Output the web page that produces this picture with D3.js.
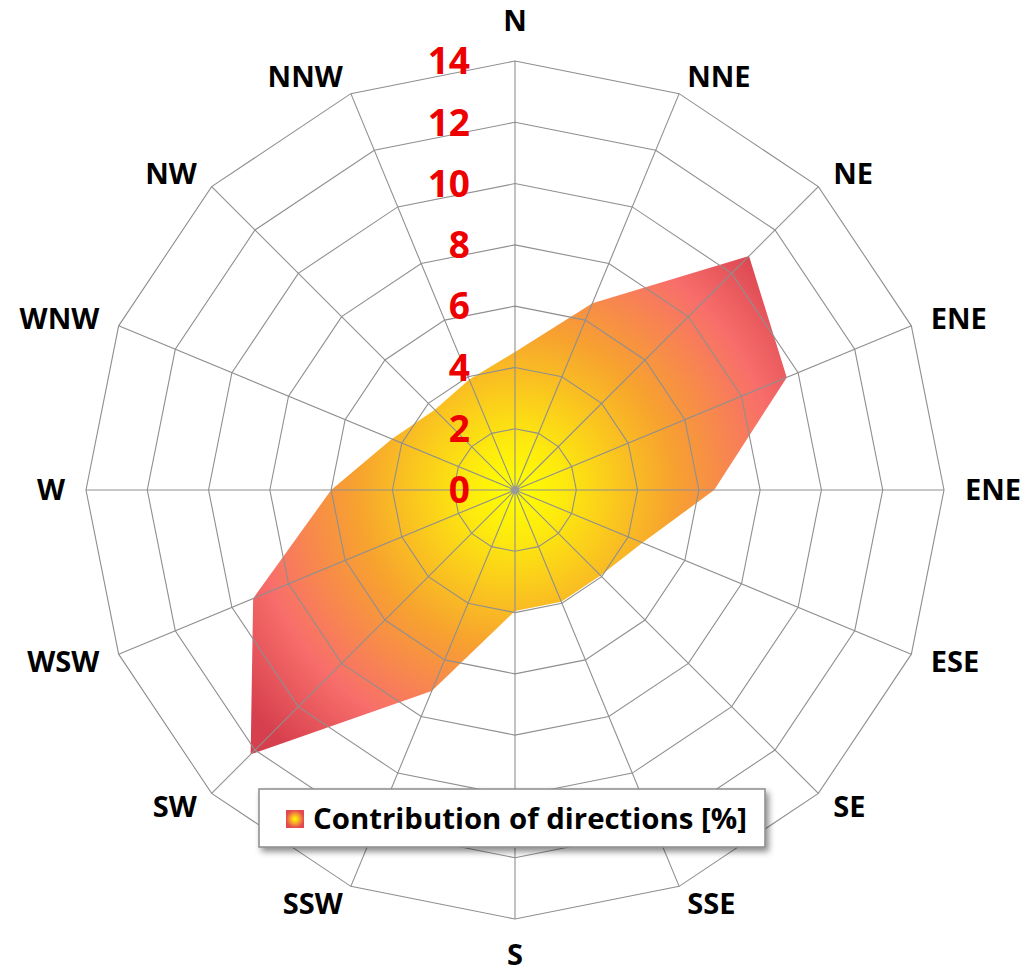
<!DOCTYPE html>
<html>
<head>
<meta charset="utf-8">
<script src="https://cdn.jsdelivr.net/npm/d3@7"></script>
<style>
  body { margin: 0; background: #fff; }
  svg { display: block; }
</style>
</head>
<body>
<svg></svg>
<script>
// directions as labelled in the original (the east label really reads "ENE" twice)
const directions = ["N", "NNE", "NE", "ENE", "ENE", "ESE", "SE", "SSE",
                    "S", "SSW", "SW", "WSW", "W", "WNW", "NW", "NNW"];
const contribution = [4.5, 6.6, 10.8, 9.6, 6.5, 4.5, 3.95, 3.95,
                      3.95, 7.1, 12.2, 9.25, 6.0, 4.35, 3.7, 3.9];
const tickValues = [0, 2, 4, 6, 8, 10, 12, 14];
const legendLabel = "Contribution of directions [%]";

function buildPlot(){
    const width = 1022, height = 975;
    const cx = 515, cy = 490, radius = 429;

    const svg = d3.select("svg").attr("width", width).attr("height", height)
        .attr("viewBox", [0, 0, width, height]);

    const r_scale = d3.scaleLinear().domain([0, 14]).range([0, radius]);
    const a_scale = d3.scaleLinear().domain([0, directions.length]).range([0, 2 * Math.PI]);

    const defs = svg.append("defs");

    // fill: yellow in the middle, orange, then red at the tips
    // (user space of the translated group, so centre is 0,0)
    const grad = defs.append("radialGradient").attr("id", "fillGrad")
        .attr("gradientUnits", "userSpaceOnUse")
        .attr("cx", 0).attr("cy", 0).attr("r", 345);
    [["0", "#ffff00"], ["0.14", "#fdea0e"], ["0.46", "#f7a22f"],
     ["0.76", "#f86e6b"], ["1", "#d63f4d"]].forEach(s =>
        grad.append("stop").attr("offset", s[0]).attr("stop-color", s[1]));

    const iconGrad = defs.append("radialGradient").attr("id", "iconGrad");
    [["0", "#ffff00"], ["0.5", "#f7a62e"], ["1", "#e2484f"]].forEach(s =>
        iconGrad.append("stop").attr("offset", s[0]).attr("stop-color", s[1]));

    const shadow = defs.append("filter").attr("id", "shadow")
        .attr("x", "-10%").attr("y", "-30%").attr("width", "130%").attr("height", "180%");
    shadow.append("feDropShadow").attr("dx", 3).attr("dy", 4)
        .attr("stdDeviation", 3).attr("flood-color", "#000").attr("flood-opacity", 0.45);

    const g = svg.append("g").attr("transform", `translate(${cx},${cy})`);

    // data polygon
    const area = d3.lineRadial()
        .angle((d, i) => a_scale(i))
        .radius(d => r_scale(d))
        .curve(d3.curveLinearClosed);

    g.append("path")
        .attr("d", area(contribution))
        .attr("fill", "url(#fillGrad)");

    // grid rings (polygons) and spokes on top of the fill
    const ring = d3.lineRadial()
        .angle((d, i) => a_scale(i))
        .radius(d => d)
        .curve(d3.curveLinearClosed);

    g.selectAll(".ring")
        .data(tickValues.filter(t => t > 0))
        .join("path")
        .attr("class", "ring")
        .attr("d", t => ring(directions.map(() => r_scale(t))))
        .attr("fill", "none")
        .attr("stroke", "#8f8f8f")
        .attr("stroke-width", 1.1);

    g.selectAll(".spoke")
        .data(directions)
        .join("line")
        .attr("class", "spoke")
        .attr("x1", 0).attr("y1", 0)
        .attr("x2", (d, i) => Math.sin(a_scale(i)) * radius)
        .attr("y2", (d, i) => -Math.cos(a_scale(i)) * radius)
        .attr("stroke", "#8f8f8f")
        .attr("stroke-width", 1.1);

    g.append("circle").attr("r", 4).attr("fill", "#999");

    // direction labels
    g.selectAll(".dir")
        .data(directions)
        .join("text")
        .attr("class", "dir")
        .each(function(d, i){
            const a = a_scale(i), s = Math.sin(a), c = Math.cos(a);
            const vx = s * radius, vy = -c * radius;
            const el = d3.select(this);
            if (Math.abs(s) < 0.01) {
                el.attr("x", vx).attr("y", vy - (c > 0 ? 40 : 36) * Math.sign(c)).attr("text-anchor", "middle");
            } else {
                el.attr("x", vx + 21 * s).attr("y", vy - 19 * c)
                  .attr("text-anchor", s > 0 ? "start" : "end");
            }
        })
        .attr("dy", "0.36em")
        .style("font-family", "'Open Sans', sans-serif")
        .style("font-weight", 700)
        .style("font-size", "29px")
        .attr("fill", "#000")
        .text(d => d);

    // red value labels along the north spoke
    g.selectAll(".tick")
        .data(tickValues)
        .join("text")
        .attr("class", "tick")
        .attr("x", -45)
        .attr("y", t => -r_scale(t))
        .attr("dy", "0.36em")
        .attr("text-anchor", "end")
        .style("font-family", "'Open Sans', sans-serif")
        .style("font-weight", 700)
        .style("font-size", "37px")
        .attr("fill", "#ee0000")
        .text(t => t);

    // legend
    const legend = svg.append("g").attr("transform", "translate(259,789)");
    legend.append("rect")
        .attr("width", 506).attr("height", 58)
        .attr("fill", "#fff")
        .attr("stroke", "#8a8a8a")
        .attr("stroke-width", 1.5)
        .attr("filter", "url(#shadow)");
    legend.append("rect")
        .attr("x", 27).attr("y", 21).attr("width", 18).attr("height", 18)
        .attr("fill", "url(#iconGrad)");
    legend.append("text")
        .attr("x", 54).attr("y", 30)
        .attr("dy", "0.36em")
        .attr("textLength", 434)
        .attr("lengthAdjust", "spacingAndGlyphs")
        .style("font-family", "'Open Sans', sans-serif")
        .style("font-weight", 700)
        .style("font-size", "29px")
        .attr("fill", "#000")
        .text(legendLabel);
}
buildPlot();
</script>
</body>
</html>
